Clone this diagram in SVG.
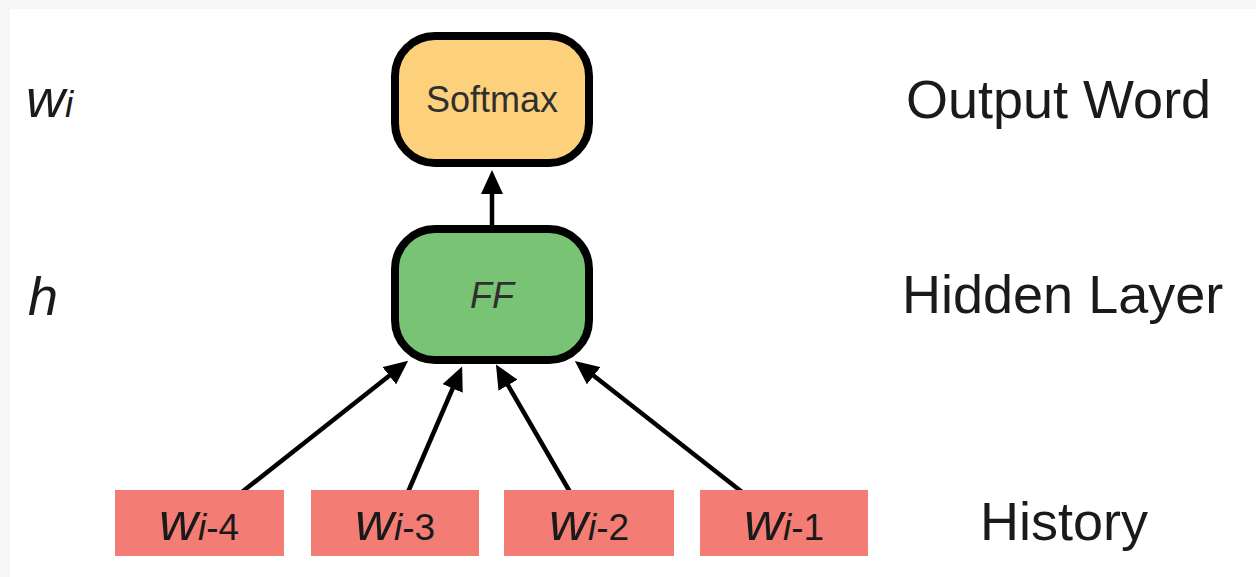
<svg xmlns="http://www.w3.org/2000/svg" width="1256" height="577" viewBox="0 0 1256 577">
  <defs>
    <marker id="arrow" markerUnits="userSpaceOnUse" markerWidth="24" markerHeight="22" refX="6" refY="11" orient="auto">
      <path d="M0,0 L24,11 L0,22 z" fill="#000"/>
    </marker>
    <style>
      text { font-family: "Liberation Sans", Arial, sans-serif; fill: #1a1a1a; }
      .node { stroke: #000; stroke-width: 8; }
      .softmax { fill: #fdd17c; }
      .ff { fill: #78c474; }
      .hist { fill: #f37d74; }
      .edge { stroke: #000; stroke-width: 4.5; fill: none; marker-end: url(#arrow); }
      .label { font-size: 54px; }
      .var { font-size: 54px; font-style: italic; }
      .sub { font-size: 37px; }
      .it { font-style: italic; }
      .inner { font-size: 36px; fill: #2f2f2f; text-anchor: middle; }
    </style>
  </defs>

  <!-- page background -->
  <rect x="0" y="0" width="1256" height="577" fill="#f5f6f8"/>
  <rect x="10" y="9" width="1246" height="568" fill="#ffffff"/>

  <!-- connectors -->
  <g id="connectors">
    <line class="edge" x1="492" y1="229" x2="492" y2="188"/>
    <line class="edge" x1="242" y1="492" x2="394" y2="372"/>
    <line class="edge" x1="408" y1="492" x2="455" y2="383"/>
    <line class="edge" x1="570" y1="492" x2="505" y2="380"/>
    <line class="edge" x1="742" y1="492" x2="589" y2="372"/>
  </g>

  <!-- output layer -->
  <g id="softmax">
    <rect class="node softmax" x="395" y="36" width="194" height="127" rx="40" ry="40"/>
    <text class="inner" x="492" y="112">Softmax</text>
  </g>

  <!-- hidden layer -->
  <g id="ff">
    <rect class="node ff" x="395" y="229" width="194" height="131" rx="40" ry="40"/>
    <text class="inner it" x="492" y="308">FF</text>
  </g>

  <!-- history words -->
  <g id="w4">
    <rect class="hist" x="115" y="490" width="169" height="66"/>
    <text x="199" y="540" text-anchor="middle"><tspan class="var">w</tspan><tspan class="sub it">i</tspan><tspan class="sub">-4</tspan></text>
  </g>
  <g id="w3">
    <rect class="hist" x="311" y="490" width="168" height="66"/>
    <text x="395" y="540" text-anchor="middle"><tspan class="var">w</tspan><tspan class="sub it">i</tspan><tspan class="sub">-3</tspan></text>
  </g>
  <g id="w2">
    <rect class="hist" x="504" y="490" width="170" height="66"/>
    <text x="589" y="540" text-anchor="middle"><tspan class="var">w</tspan><tspan class="sub it">i</tspan><tspan class="sub">-2</tspan></text>
  </g>
  <g id="w1">
    <rect class="hist" x="700" y="490" width="168" height="66"/>
    <text x="784" y="540" text-anchor="middle"><tspan class="var">w</tspan><tspan class="sub it">i</tspan><tspan class="sub">-1</tspan></text>
  </g>

  <!-- row labels, left -->
  <g id="left-labels">
    <text x="26" y="117"><tspan class="var">w</tspan><tspan class="sub it">i</tspan></text>
    <text class="var" x="28" y="315">h</text>
  </g>

  <!-- row labels, right -->
  <g id="right-labels">
    <text class="label" x="906" y="118">Output Word</text>
    <text class="label" x="902" y="313">Hidden Layer</text>
    <text class="label" x="980" y="540">History</text>
  </g>
</svg>
